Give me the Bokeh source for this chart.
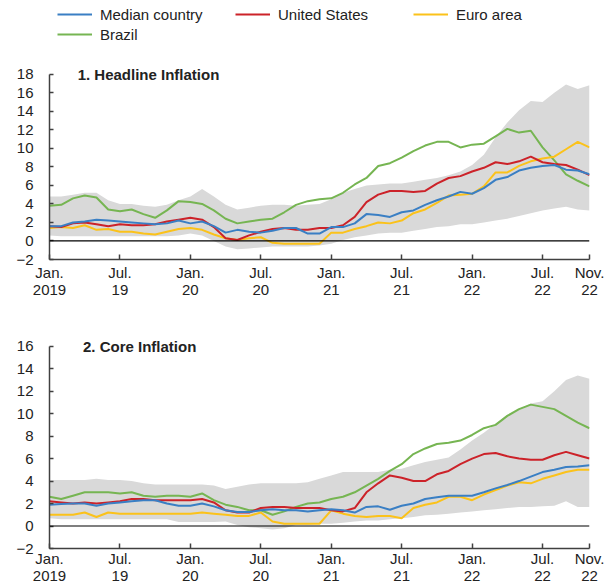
from bokeh.plotting import figure
from bokeh.models import Range1d, FixedTicker, Span, Label, Legend, LegendItem
from bokeh.layouts import column
from bokeh.embed import file_html
from bokeh.resources import INLINE

# ---------------- data ----------------
months = list(range(47))  # Jan 2019 ... Nov 2022
tick_pos = [0, 6, 12, 18, 24, 30, 36, 42, 46]
tick_labels = ["Jan.\n2019", "Jul.\n19", "Jan.\n20", "Jul.\n20", "Jan.\n21",
               "Jul.\n21", "Jan.\n22", "Jul.\n22", "Nov.\n22"]

# Panel 1: headline inflation
median_h = [1.6, 1.6, 2.0, 2.1, 2.3, 2.2, 2.1, 2.0, 1.9, 1.8, 1.9, 2.2, 1.9, 2.1, 1.6, 0.9,
            1.2, 1.0, 0.9, 1.1, 1.4, 1.4, 0.8, 0.8, 1.5, 1.5, 1.9, 2.9, 2.8, 2.6, 3.1, 3.3,
            3.9, 4.4, 4.8, 5.3, 5.1, 5.7, 6.6, 6.9, 7.6, 7.9, 8.1, 8.2, 7.7, 7.6, 7.2]
us_h = [1.6, 1.5, 1.9, 2.0, 1.8, 1.6, 1.8, 1.7, 1.7, 1.8, 2.1, 2.3, 2.5, 2.3, 1.5, 0.3,
        0.1, 0.6, 1.0, 1.3, 1.4, 1.2, 1.2, 1.4, 1.4, 1.7, 2.6, 4.2, 5.0, 5.4, 5.4, 5.3,
        5.4, 6.2, 6.8, 7.0, 7.5, 7.9, 8.5, 8.3, 8.6, 9.1, 8.5, 8.3, 8.2, 7.7, 7.1]
euro_h = [1.4, 1.5, 1.4, 1.7, 1.2, 1.3, 1.0, 1.0, 0.8, 0.7, 1.0, 1.3, 1.4, 1.2, 0.7, 0.3,
          0.1, 0.3, 0.4, -0.2, -0.3, -0.3, -0.3, -0.3, 0.9, 0.9, 1.3, 1.6, 2.0, 1.9, 2.2, 3.0,
          3.4, 4.1, 4.9, 5.0, 5.1, 5.9, 7.4, 7.4, 8.1, 8.6, 8.9, 9.1, 9.9, 10.7, 10.1]
brazil_h = [3.8, 3.9, 4.6, 4.9, 4.7, 3.4, 3.2, 3.4, 2.9, 2.5, 3.3, 4.3, 4.2, 4.0, 3.3, 2.4,
            1.9, 2.1, 2.3, 2.4, 3.1, 3.9, 4.3, 4.5, 4.6, 5.2, 6.1, 6.8, 8.1, 8.4, 9.0, 9.7,
            10.3, 10.7, 10.7, 10.1, 10.4, 10.5, 11.3, 12.1, 11.7, 11.9, 10.1, 8.7, 7.2, 6.5, 5.9]
band_hi_h = [4.8, 4.8, 5.0, 5.2, 5.2, 4.4, 4.0, 4.0, 3.8, 3.7, 3.9, 4.4, 4.8, 5.6, 4.8, 3.9,
             3.4, 3.6, 3.8, 3.9, 3.9, 3.8, 3.9, 4.0, 4.5, 5.2, 5.6, 6.0, 6.1, 6.2, 6.2, 6.4,
             6.6, 6.8, 7.1, 7.5, 8.2, 9.3, 11.2, 12.8, 14.1, 15.1, 15.0, 16.0, 16.9, 16.4, 16.8]
band_lo_h = [0.6, 0.5, 0.5, 0.5, 0.5, 0.5, 0.5, 0.5, 0.5, 0.5, 0.5, 0.6, 0.8, 0.6, 0.0, -0.6,
             -0.9, -0.8, -0.7, -0.6, -0.6, -0.6, -0.6, -0.5, -0.3, 0.1, 0.4, 0.6, 0.8, 0.9, 0.9, 1.1,
             1.3, 1.5, 1.6, 1.8, 1.8, 2.0, 2.2, 2.4, 2.7, 3.0, 3.3, 3.5, 3.7, 3.4, 3.3]

# Panel 2: core inflation
median_c = [1.9, 1.95, 2.0, 2.0, 1.8, 2.0, 2.1, 2.2, 2.3, 2.3, 2.0, 1.8, 1.8, 2.0, 1.75, 1.4,
            1.25, 1.25, 1.4, 1.5, 1.4, 1.4, 1.3, 1.4, 1.5, 1.4, 1.2, 1.7, 1.75, 1.45, 1.8, 2.0,
            2.4, 2.55, 2.7, 2.7, 2.7, 3.0, 3.35, 3.65, 4.0, 4.4, 4.8, 5.0, 5.25, 5.3, 5.4]
us_c = [2.2, 2.1, 2.0, 2.1, 2.0, 2.1, 2.2, 2.4, 2.4, 2.3, 2.3, 2.3, 2.3, 2.4, 2.1, 1.4,
        1.2, 1.2, 1.6, 1.7, 1.7, 1.6, 1.6, 1.6, 1.4, 1.3, 1.6, 3.0, 3.8, 4.5, 4.3, 4.0,
        4.0, 4.6, 4.9, 5.5, 6.0, 6.4, 6.5, 6.2, 6.0, 5.9, 5.9, 6.3, 6.6, 6.3, 6.0]
euro_c = [1.0, 1.0, 1.0, 1.2, 0.8, 1.2, 1.1, 1.1, 1.1, 1.1, 1.1, 1.1, 1.1, 1.2, 1.1, 1.0,
          0.9, 0.9, 1.2, 0.4, 0.2, 0.2, 0.2, 0.2, 1.4, 1.1, 0.9, 0.8, 0.9, 0.9, 0.7, 1.6,
          1.9, 2.1, 2.6, 2.6, 2.3, 2.8, 3.2, 3.6, 3.9, 3.8, 4.2, 4.5, 4.8, 5.0, 5.0]
brazil_c = [2.6, 2.4, 2.7, 3.0, 3.0, 3.0, 2.9, 3.0, 2.7, 2.6, 2.7, 2.7, 2.6, 2.9, 2.3, 1.9,
            1.7, 1.4, 1.4, 1.0, 1.3, 1.7, 2.0, 2.1, 2.4, 2.6, 3.0, 3.6, 4.2, 4.9, 5.5, 6.4,
            6.9, 7.3, 7.4, 7.6, 8.1, 8.7, 9.0, 9.8, 10.4, 10.8, 10.6, 10.4, 9.8, 9.2, 8.7]
band_hi_c = [4.1, 4.1, 4.1, 4.1, 4.2, 4.1, 4.1, 4.0, 3.8, 3.7, 3.7, 3.7, 3.7, 3.7, 3.6, 3.3,
             3.5, 3.7, 3.8, 3.8, 3.8, 3.8, 3.9, 4.2, 4.5, 4.8, 4.8, 4.8, 4.8, 5.0, 5.1, 5.4,
             5.7, 5.9, 6.1, 6.8, 7.6, 8.3, 9.1, 9.9, 10.4, 10.9, 11.1, 12.0, 13.0, 13.4, 13.1]
band_lo_c = [0.7, 0.6, 0.6, 0.6, 0.6, 0.6, 0.6, 0.6, 0.6, 0.6, 0.6, 0.35, 0.35, 0.35, 0.35, 0.4,
             0.1, -0.1, -0.2, -0.3, -0.2, 0.1, 0.1, 0.2, 0.2, 0.3, 0.4, 0.5, 0.5, 0.6, 0.7, 0.8,
             0.95, 1.0, 1.1, 1.2, 1.3, 1.4, 1.5, 1.6, 1.7, 1.7, 1.75, 1.8, 2.2, 1.7, 1.7]

# ---------------- style ----------------
FONT = "Liberation Sans"
TXT = "#222222"
C_MED = "#3a7fc4"
C_US = "#cc2229"
C_EURO = "#fbc21a"
C_BRA = "#76b552"
C_BAND = "#d9d9d9"
AXIS = "#404040"


def make_panel(height, bottom, ymax, ytop, title, title_x, med, us, euro, bra, lo, hi, standoff, lh):
    # frame extends to the top of the figure (room for legend / title); axis line bounded
    p = figure(width=606, height=height, output_backend="svg", toolbar_location=None,
               x_range=Range1d(0, 46), y_range=Range1d(-2, ytop),
               min_border_left=49, min_border_right=17,
               min_border_top=0, min_border_bottom=bottom)
    p.outline_line_color = None
    p.xgrid.visible = False
    p.ygrid.visible = False
    p.background_fill_color = "white"
    p.border_fill_color = "white"

    p.varea(x=months, y1=lo, y2=hi, color=C_BAND)
    rb = p.line(months, bra, line_color=C_BRA, line_width=2)
    re = p.line(months, euro, line_color=C_EURO, line_width=2)
    ru = p.line(months, us, line_color=C_US, line_width=2)
    rm = p.line(months, med, line_color=C_MED, line_width=2)

    p.add_layout(Span(location=0, dimension="width", line_color="black", line_width=1.2))

    xa = p.xaxis[0]
    xa.ticker = FixedTicker(ticks=tick_pos)
    xa.major_label_overrides = {k: v for k, v in zip(tick_pos, tick_labels)}
    xa.major_tick_in = 5
    xa.major_tick_out = 0
    xa.minor_tick_line_color = None
    xa.axis_line_color = AXIS
    xa.axis_line_width = 1.5
    xa.major_tick_line_color = AXIS
    xa.major_tick_line_width = 1.5
    xa.major_label_text_font = FONT
    xa.major_label_text_font_size = "15px"
    xa.major_label_text_color = TXT
    xa.major_label_text_line_height = lh
    xa.major_label_standoff = standoff

    ya = p.yaxis[0]
    yt = list(range(-2, ymax + 1, 2))
    ya.ticker = FixedTicker(ticks=yt)
    ya.bounds = (-2, ymax)
    ya.major_label_overrides = {-2: "\u22122"}
    ya.major_tick_in = 4
    ya.major_tick_out = 0
    ya.minor_tick_line_color = None
    ya.axis_line_color = AXIS
    ya.axis_line_width = 1.5
    ya.major_tick_line_color = AXIS
    ya.major_tick_line_width = 1.5
    ya.major_label_text_font = FONT
    ya.major_label_text_font_size = "15px"
    ya.major_label_text_color = TXT
    ya.major_label_standoff = 16

    p.add_layout(Label(x=title_x, y=ymax, text=title, text_font=FONT, text_font_size="15px",
                       text_font_style="bold", text_color=TXT, text_baseline="middle"))
    return p, (rm, ru, re, rb)


p1, (rm, ru, re, rb) = make_panel(305, 46, 18, 25.96, "1. Headline Inflation", 2.4,
                                  median_h, us_h, euro_h, brazil_h, band_lo_h, band_hi_h, 4, 1.05)
p2, _ = make_panel(281, 36, 16, 19.62, "2. Core Inflation", 2.85,
                   median_c, us_c, euro_c, brazil_c, band_lo_c, band_hi_c, 1, 1.0)

legend = Legend(items=[LegendItem(label="Median country", renderers=[rm]),
                       LegendItem(label="United States", renderers=[ru]),
                       LegendItem(label="Euro area", renderers=[re]),
                       LegendItem(label="Brazil", renderers=[rb])],
                location=(8, 216), orientation="horizontal", ncols=3,
                glyph_width=35, glyph_height=18, label_height=18, label_width=133,
                label_standoff=8, spacing=2, padding=0, margin=0,
                border_line_alpha=0, background_fill_alpha=0,
                label_text_font=FONT, label_text_font_size="15px", label_text_color=TXT)
p1.add_layout(legend)

layout = column(p1, p2, spacing=0)
open("out.html", "w").write(file_html(layout, INLINE))
